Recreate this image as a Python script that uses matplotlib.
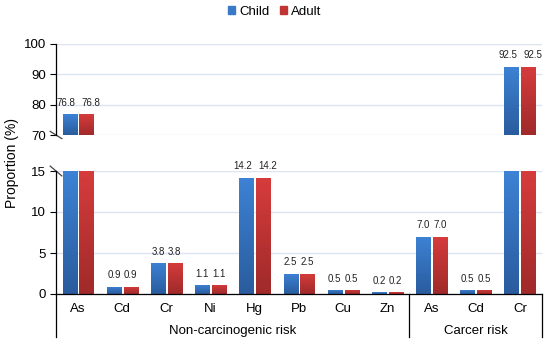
import matplotlib
matplotlib.use("Agg")
import matplotlib.pyplot as plt
import numpy as np
from matplotlib.colors import LinearSegmentedColormap
from matplotlib.patches import Patch

categories = ["As", "Cd", "Cr", "Ni", "Hg", "Pb", "Cu", "Zn", "As", "Cd", "Cr"]
child = [76.8, 0.9, 3.8, 1.1, 14.2, 2.5, 0.5, 0.2, 7.0, 0.5, 92.5]
adult = [76.8, 0.9, 3.8, 1.1, 14.2, 2.5, 0.5, 0.2, 7.0, 0.5, 92.5]
groups = ["Non-carcinogenic risk", "Carcer risk"]
group_sizes = [8, 3]
series_names = ["Child", "Adult"]

blue_top, blue_bot = "#3d82d4", "#2a5c9e"
red_top, red_bot = "#d63c3c", "#a02a2a"

plt.rcParams['font.family'] = ['Liberation Sans', 'DejaVu Sans']

W, H = 550, 348
fig = plt.figure(figsize=(W / 100, H / 100), dpi=100)
left, right = 56 / W, 542 / W
ax_top = fig.add_axes([left, (H - 135) / H, right - left, (135 - 44) / H])
ax_bot = fig.add_axes([left, (H - 294) / H, right - left, (294 - 171) / H])

x = np.arange(len(categories))
bw = 0.32
off = 0.19
grid_c = "#dbe5f1"
FS = 9

def grad_bars(ax, xs, vals, ctop, cbot, ylo, yhi):
    cmap = LinearSegmentedColormap.from_list("g", [cbot, ctop])
    grad = np.linspace(0, 1, 64).reshape(-1, 1)
    bars = ax.bar(xs, vals, bw, color="none", edgecolor="none", zorder=3)
    for b in bars:
        bx, bwid, bh = b.get_x(), b.get_width(), b.get_height()
        top = min(bh, yhi)
        if top <= ylo:
            continue
        im = ax.imshow(grad, extent=[bx, bx + bwid, ylo, top], origin="lower",
                       cmap=cmap, aspect="auto", zorder=3, interpolation="bilinear")
        im.set_clip_path(b)
    return bars

for ax, (ylo, yhi) in [(ax_top, (70, 100)), (ax_bot, (0, 15))]:
    grad_bars(ax, x - off, child, blue_top, blue_bot, ylo, yhi)
    grad_bars(ax, x + off, adult, red_top, red_bot, ylo, yhi)
    ax.set_xlim(-0.5, len(categories) - 0.5)
    ax.set_ylim(ylo, yhi)
    for s in ["top", "right", "bottom"]:
        ax.spines[s].set_visible(False)
    ax.spines["left"].set_linewidth(0.9)
    ax.tick_params(axis="y", length=4, width=0.8, labelsize=FS + 0.5, pad=3, colors="black")
    ax.tick_params(axis="x", length=0)
    ax.set_xticks([])
    ax.yaxis.grid(True, color=grid_c, linewidth=1)
    ax.set_axisbelow(True)
    ax.patch.set_alpha(0)

ax_top.set_yticks([70, 80, 90, 100])
ax_bot.set_yticks([0, 5, 10, 15])

# value labels (wide labels spread apart to avoid overlapping)
for i in range(len(categories)):
    for k, (v, dx) in enumerate([(child[i], -off), (adult[i], off)]):
        ax = ax_top if v > 15 else ax_bot
        shift = 0.0
        if v >= 10:
            shift = -2.5 if k == 0 else 3.0
        ax.annotate(f"{v:.1f}", (x[i] + dx, min(v, ax.get_ylim()[1])), xytext=(shift, 4.5),
                    textcoords="offset points", ha="center", va="bottom", fontsize=7,
                    color="#222222")

# x axis line at 0
ax_bot.axhline(0, color="black", linewidth=0.9, zorder=4, clip_on=False)

# category labels
trans = ax_bot.get_xaxis_transform()
for i, c in enumerate(categories):
    ax_bot.text(x[i], -(309 - 294) / (294 - 171), c, transform=trans, ha="center",
                va="center", fontsize=FS + 0.5)

# group separators and labels
bounds = np.cumsum([0] + group_sizes)
y_bottom = -(337 - 294) / (294 - 171)
for b in bounds:
    ax_bot.plot([b - 0.5, b - 0.5], [0, y_bottom], transform=trans, color="black",
                linewidth=0.9, clip_on=False)
for gi, g in enumerate(groups):
    cx = (bounds[gi] + bounds[gi + 1] - 1) / 2
    ax_bot.text(cx, -(331 - 294) / (294 - 171), g, transform=trans, ha="center",
                va="center", fontsize=FS + 0.5)

# break marks
def brk(ax, y):
    t = ax.get_yaxis_transform()
    d = 0.012
    span = ax.get_ylim()[1] - ax.get_ylim()[0]
    ax.plot([-d, d], [y + 0.04 * span, y - 0.04 * span],
            transform=t, color="#444444", linewidth=0.9, clip_on=False)
brk(ax_top, 70)
brk(ax_bot, 15)

# y label
fig.text(0.022, (H - 163) / H, "Proportion (%)", rotation=90, ha="center", va="center",
         fontsize=FS + 1)

# legend
handles = [Patch(color="#3a78c8"), Patch(color="#c03434")]
fig.legend(handles, series_names, loc="center", bbox_to_anchor=(0.5, (H - 12) / H), ncol=2,
           frameon=False, fontsize=FS + 0.5, handlelength=0.55, handleheight=0.55,
           handletextpad=0.3, columnspacing=0.8)

fig.savefig("out.png", dpi=100)
